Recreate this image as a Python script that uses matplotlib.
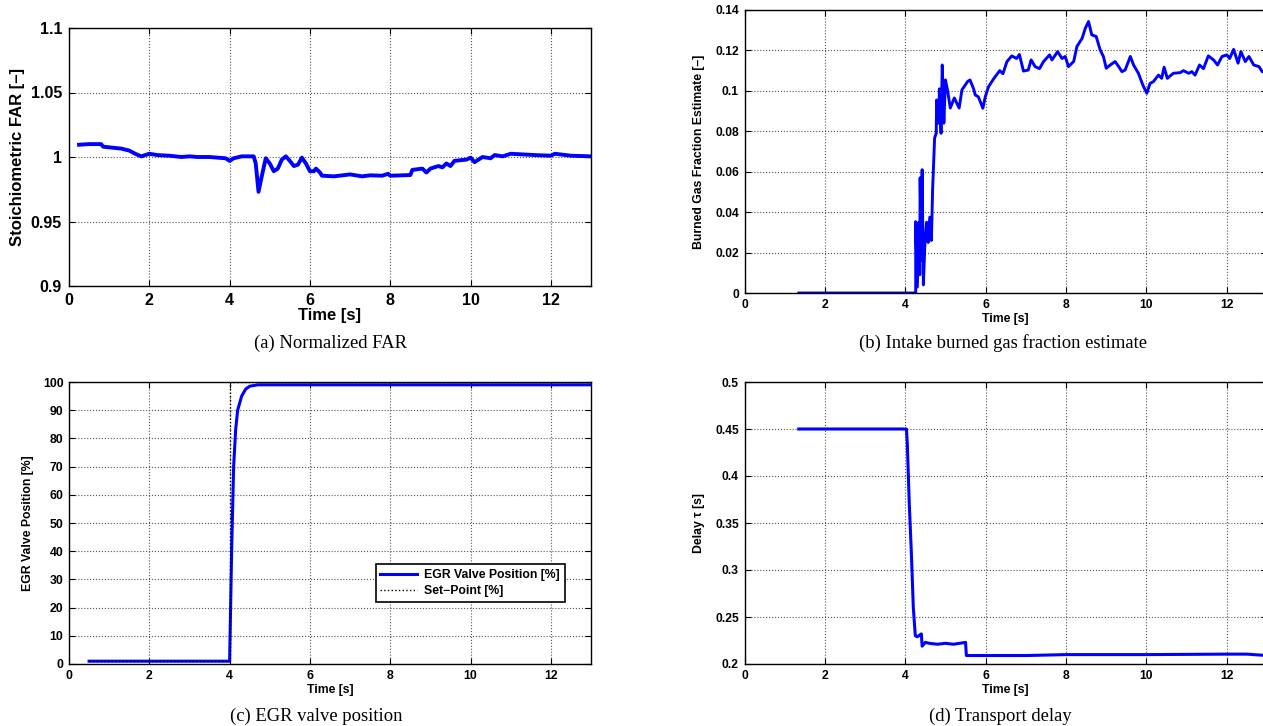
import matplotlib
matplotlib.use("Agg")
import matplotlib.pyplot as plt
from matplotlib.ticker import FuncFormatter

plt.rcParams['font.family'] = ['Liberation Sans', 'DejaVu Sans']

# ---------------- data ----------------
far_t = [0.25, 0.5, 0.8, 0.85, 1.0, 1.3, 1.5, 1.65, 1.8, 2.0, 2.2, 2.5, 2.8, 3.0, 3.2, 3.5, 3.7, 3.9, 4.0,
         4.1, 4.3, 4.6, 4.65, 4.72, 4.8, 4.9, 5.0, 5.1, 5.2, 5.3, 5.4, 5.5, 5.6, 5.7, 5.8, 5.9, 6.0,
         6.1, 6.15, 6.25, 6.3, 6.6, 7.0, 7.3, 7.5, 7.8, 7.95, 8.0, 8.5, 8.55, 8.8, 8.9, 9.0, 9.2, 9.3,
         9.4, 9.5, 9.6, 9.9, 10.0, 10.1, 10.2, 10.3, 10.5, 10.6, 10.8, 11.0, 11.3, 11.6, 12.0, 12.1, 12.5, 13.0]
far_v = [1.0095, 1.010, 1.010, 1.008, 1.0075, 1.0065, 1.005, 1.0025, 1.0005, 1.0025, 1.0015, 1.001, 1.0, 1.0005,
         1.0, 1.0, 0.9995, 0.999, 0.997, 0.999, 1.0005, 1.0005, 0.995, 0.973, 0.985, 0.999, 0.995, 0.989,
         0.991, 0.998, 1.0005, 0.997, 0.993, 0.994, 0.9995, 0.995, 0.989, 0.989, 0.991, 0.988, 0.9855,
         0.985, 0.9865, 0.985, 0.9858, 0.9855, 0.987, 0.9855, 0.986, 0.990, 0.991, 0.988, 0.991, 0.993,
         0.992, 0.995, 0.993, 0.997, 0.998, 0.9995, 0.996, 0.998, 1.0, 0.999, 1.0015, 1.0005, 1.0025,
         1.002, 1.0015, 1.001, 1.0025, 1.001, 1.0005]

bgf_t = [1.35, 4.26, 4.26, 4.30, 4.34, 4.36, 4.37, 4.40, 4.42, 4.45, 4.49, 4.53, 4.57, 4.61, 4.65, 4.68,
         4.73, 4.77, 4.78, 4.83, 4.85, 4.89, 4.92, 4.96, 5.00, 5.05, 5.12, 5.22, 5.34, 5.41, 5.55, 5.61,
         5.70, 5.74, 5.82, 5.93, 5.99, 6.07, 6.20, 6.35, 6.43, 6.53, 6.65, 6.77, 6.84, 6.94, 7.06, 7.13,
         7.23, 7.34, 7.44, 7.59, 7.65, 7.79, 7.90, 7.98, 8.06, 8.19, 8.27, 8.40, 8.48, 8.56, 8.64, 8.75,
         8.85, 8.93, 9.00, 9.10, 9.22, 9.31, 9.39, 9.47, 9.60, 9.68, 9.80, 9.91, 10.01, 10.09, 10.17,
         10.30, 10.38, 10.44, 10.52, 10.67, 10.84, 10.92, 11.05, 11.13, 11.21, 11.32, 11.42, 11.54, 11.67,
         11.77, 11.88, 12.00, 12.07, 12.17, 12.28, 12.35, 12.46, 12.55, 12.67, 12.80, 12.88, 13.0]
bgf_v = [0.0, 0.0, 0.0353, 0.003, 0.035, 0.009, 0.057, 0.016, 0.061, 0.004, 0.025, 0.035, 0.025, 0.0375,
         0.026, 0.051, 0.0767, 0.079, 0.0955, 0.084, 0.101, 0.079, 0.1128, 0.084, 0.1054, 0.1005, 0.0915,
         0.0965, 0.0915, 0.1005, 0.1046, 0.1054, 0.101, 0.098, 0.097, 0.0914, 0.097, 0.102, 0.106, 0.110,
         0.1085, 0.1145, 0.1173, 0.116, 0.118, 0.1098, 0.1103, 0.1153, 0.112, 0.111, 0.1145, 0.1178,
         0.1153, 0.1194, 0.116, 0.117, 0.112, 0.1145, 0.1219, 0.126, 0.131, 0.1343, 0.1277, 0.1269,
         0.1202, 0.117, 0.1112, 0.1128, 0.1145, 0.112, 0.1095, 0.1103, 0.117, 0.1128, 0.1087, 0.1029,
         0.0988, 0.1037, 0.1045, 0.1078, 0.1062, 0.1117, 0.1062, 0.1087, 0.109, 0.110, 0.1087, 0.1095,
         0.1078, 0.1128, 0.111, 0.1173, 0.1153, 0.1128, 0.117, 0.1178, 0.116, 0.1205, 0.1137, 0.1194,
         0.1145, 0.117, 0.1128, 0.112, 0.1095, 0.109]

egr_t = [0.5, 4.0, 4.05, 4.1, 4.15, 4.2, 4.3, 4.4, 4.5, 4.7, 13.0]
egr_v = [1.0, 1.0, 40.0, 70.0, 83.0, 90.0, 95.0, 97.5, 98.5, 99.0, 99.0]
sp_t = [0.5, 4.0, 4.0, 13.0]
sp_v = [1.0, 1.0, 100.0, 100.0]

del_t = [1.35, 4.0, 4.03, 4.05, 4.1, 4.15, 4.2, 4.25, 4.3, 4.4, 4.42, 4.5, 4.6, 4.8, 5.0, 5.2, 5.5, 5.52,
         6.0, 7.0, 8.0, 10.0, 12.0, 12.5, 13.0]
del_v = [0.45, 0.45, 0.45, 0.435, 0.37, 0.32, 0.26, 0.23, 0.229, 0.232, 0.219, 0.223, 0.222, 0.221, 0.222,
         0.221, 0.223, 0.209, 0.209, 0.209, 0.210, 0.210, 0.2105, 0.2105, 0.209]

xticks = [0, 2, 4, 6, 8, 10, 12]
BLUE = '#0000ff'
W, H = 1263, 726

fig = plt.figure(figsize=(W / 100, H / 100), dpi=100)


def box(l, r, t, b):
    return [l / W, 1 - b / H, (r - l) / W, (b - t) / H]


fmt = FuncFormatter(lambda v, p: '%g' % round(v, 6))


def style(ax, tsize, pad=3):
    ax.set_xlim(0, 13)
    ax.set_xticks(xticks)
    ax.yaxis.set_major_formatter(fmt)
    ax.xaxis.set_major_formatter(fmt)
    ax.tick_params(direction='in', top=True, right=True, length=4, width=0.8,
                   labelsize=tsize, pad=pad)
    for lab in ax.get_xticklabels() + ax.get_yticklabels():
        lab.set_fontweight('bold')
    ax.grid(True, linestyle=':', color='#555555', linewidth=0.8)
    for s in ax.spines.values():
        s.set_linewidth(1.0)
        s.set_color('black')


# (a)
ax1 = fig.add_axes(box(69, 591, 28, 286))
ax1.plot(far_t, far_v, color=BLUE, linewidth=2.8)
ax1.set_ylim(0.9, 1.1)
ax1.set_yticks([0.9, 0.95, 1.0, 1.05, 1.1])
style(ax1, 11.5, pad=5)
ax1.set_xlabel('Time [s]', fontsize=12, fontweight='bold', labelpad=0)
ax1.set_ylabel('Stoichiometric FAR [\u2013]', fontsize=12, fontweight='bold', labelpad=4)

# (b)
ax2 = fig.add_axes(box(744.5, 1267, 10, 293))
ax2.plot(bgf_t, bgf_v, color=BLUE, linewidth=2.1)
ax2.set_ylim(0, 0.14)
ax2.set_yticks([0, 0.02, 0.04, 0.06, 0.08, 0.1, 0.12, 0.14])
style(ax2, 8.7, pad=4)
ax2.set_xlabel('Time [s]', fontsize=8.8, fontweight='bold', labelpad=2)
ax2.set_ylabel('Burned Gas Fraction Estimate [\u2013]', fontsize=8.8, fontweight='bold', labelpad=7)

# (c)
ax3 = fig.add_axes(box(69, 591, 382, 664))
ax3.plot(egr_t, egr_v, color=BLUE, linewidth=2.2, label='EGR Valve Position [%]')
ax3.plot(sp_t, sp_v, color='black', linestyle=':', linewidth=1.0, label='Set\u2212Point [%]')
ax3.set_ylim(0, 100)
ax3.set_yticks(list(range(0, 101, 10)))
style(ax3, 8.8, pad=4)
ax3.set_xlabel('Time [s]', fontsize=8.8, fontweight='bold', labelpad=2)
ax3.set_ylabel('EGR Valve Position [%]', fontsize=8.8, fontweight='bold', labelpad=6)
leg = ax3.legend(loc='lower right', bbox_to_anchor=(0.962, 0.199), fancybox=False,
                 edgecolor='black', framealpha=1, prop={'weight': 'bold', 'size': 8.8},
                 handlelength=3.0, borderpad=0.4, labelspacing=0.3, handletextpad=0.6)
leg.get_frame().set_linewidth(1.2)

# (d)
ax4 = fig.add_axes(box(744.5, 1267, 382, 664))
ax4.plot(del_t, del_v, color=BLUE, linewidth=2.2)
ax4.set_ylim(0.2, 0.5)
ax4.set_yticks([0.2, 0.25, 0.3, 0.35, 0.4, 0.45, 0.5])
style(ax4, 8.7, pad=4)
ax4.set_xlabel('Time [s]', fontsize=8.8, fontweight='bold', labelpad=2)
ax4.set_ylabel('Delay \u03c4 [s]', fontsize=8.8, fontweight='bold', labelpad=7)

# captions
cap = dict(fontsize=13.4, family=['Liberation Serif', 'DejaVu Serif'], ha='center', va='center')
fig.text(330 / W, 1 - 343 / H, '(a) Normalized FAR', **cap)
fig.text(1003 / W, 1 - 343 / H, '(b) Intake burned gas fraction estimate', **cap)
fig.text(316 / W, 1 - 716 / H, '(c) EGR valve position', **cap)
fig.text(1000 / W, 1 - 716 / H, '(d) Transport delay', **cap)

fig.savefig('out.png', dpi=100)
